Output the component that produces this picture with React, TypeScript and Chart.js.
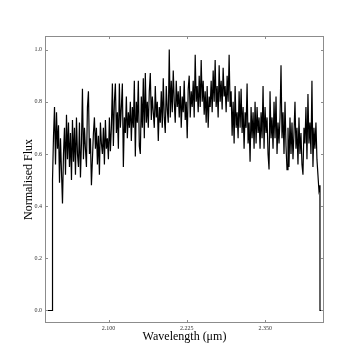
import { useEffect, useRef } from "react";
import { Chart, registerables } from "chart.js";

Chart.register(...registerables);

// Wavelength grid of the spectrum (microns)
const FLUX_START = 2.0105;
const FLUX_END = 2.4375;
const X_MIN = 1.9985;
const X_MAX = 2.444;
const Y_MIN = -0.048;
const Y_MAX = 1.052;

const X_TICKS = [2.1, 2.225, 2.35];
const Y_TICKS = [0, 0.2, 0.4, 0.6, 0.8, 1.0];

// Normalised flux (one value per pixel column)
const FLUX: number[] = [
  0.50, 0.67, 0.78, 0.56, 0.76, 0.62, 0.71, 0.49, 0.66, 0.53,
  0.41, 0.60, 0.70, 0.52, 0.75, 0.58, 0.72, 0.55, 0.68, 0.50,
  0.73, 0.57, 0.70, 0.52, 0.74, 0.60, 0.55, 0.72, 0.51, 0.64,
  0.85, 0.58, 0.70, 0.62, 0.55, 0.78, 0.84, 0.60, 0.66, 0.48,
  0.58, 0.68, 0.74, 0.62, 0.70, 0.56, 0.67, 0.52, 0.72, 0.64,
  0.60, 0.70, 0.56, 0.73, 0.62, 0.66, 0.58, 0.74, 0.61, 0.70,
  0.87, 0.63, 0.80, 0.87, 0.68, 0.76, 0.62, 0.87, 0.70, 0.78,
  0.87, 0.55, 0.74, 0.68, 0.82, 0.66, 0.76, 0.70, 0.80, 0.65,
  0.78, 0.70, 0.88, 0.59, 0.80, 0.72, 0.88, 0.63, 0.60, 0.82,
  0.70, 0.89, 0.66, 0.91, 0.72, 0.80, 0.70, 0.84, 0.91, 0.73,
  0.82, 0.76, 0.70, 0.86, 0.74, 0.80, 0.65, 0.78, 0.72, 0.84,
  0.70, 0.89, 0.74, 0.68, 0.86, 0.77, 0.72, 1.00, 0.74, 0.88,
  0.76, 0.92, 0.80, 0.72, 0.88, 0.78, 0.84, 0.74, 0.86, 0.70,
  0.82, 0.76, 0.88, 0.73, 0.80, 0.66, 0.85, 0.90, 0.74, 0.84,
  0.78, 0.88, 0.74, 0.98, 0.80, 0.86, 0.76, 0.90, 0.78, 0.96,
  0.80, 0.88, 0.75, 0.84, 0.72, 0.86, 0.70, 0.82, 0.78, 0.88,
  0.76, 0.92, 0.80, 0.96, 0.78, 0.86, 0.74, 0.94, 0.80, 0.88,
  0.77, 0.93, 0.82, 0.86, 0.76, 0.90, 0.80, 0.98, 0.78, 0.84,
  0.67, 0.80, 0.64, 0.86, 0.70, 0.76, 0.66, 0.84, 0.70, 0.85,
  0.68, 0.78, 0.62, 0.76, 0.70, 0.87, 0.64, 0.72, 0.57, 0.78,
  0.66, 0.76, 0.62, 0.80, 0.64, 0.78, 0.68, 0.74, 0.62, 0.76,
  0.66, 0.86, 0.62, 0.78, 0.68, 0.74, 0.60, 0.54, 0.84, 0.66,
  0.74, 0.62, 0.80, 0.66, 0.82, 0.60, 0.72, 0.64, 0.74, 0.94,
  0.66, 0.76, 0.60, 0.80, 0.63, 0.54, 0.70, 0.55, 0.74, 0.60,
  0.72, 0.58, 0.68, 0.80, 0.62, 0.70, 0.56, 0.74, 0.60, 0.68,
  0.56, 0.52, 0.70, 0.64, 0.78, 0.58, 0.83, 0.64, 0.72, 0.60,
  0.88, 0.55, 0.70, 0.62, 0.72, 0.58, 0.52, 0.46, 0.48,
];

const SERIF = "'Liberation Serif', 'Times New Roman', serif";

function buildPoints() {
  const n = FLUX.length;
  const step = (FLUX_END - FLUX_START) / (n - 1);
  const pts: { x: number; y: number }[] = [];
  pts.push({ x: X_MIN, y: 0 });
  pts.push({ x: FLUX_START - 0.0001, y: 0 });
  FLUX.forEach((f, i) => pts.push({ x: FLUX_START + i * step, y: f }));
  pts.push({ x: FLUX_END + 0.0001, y: 0 });
  pts.push({ x: X_MAX, y: 0 });
  return pts;
}

const framePlugin = {
  id: "frame",
  afterDraw(chart: any) {
    const { ctx, chartArea } = chart;
    const { left, right, top, bottom } = chartArea;
    const xs = chart.scales.x;
    const ys = chart.scales.y;
    ctx.save();
    ctx.strokeStyle = "#8c8c8c";
    ctx.lineWidth = 1;
    ctx.strokeRect(left + 0.5, top + 0.5, right - left - 1, bottom - top - 1);
    const tl = 3;
    ctx.beginPath();
    X_TICKS.forEach((v) => {
      const px = Math.round(xs.getPixelForValue(v)) + 0.5;
      ctx.moveTo(px, bottom);
      ctx.lineTo(px, bottom - tl);
      ctx.moveTo(px, top);
      ctx.lineTo(px, top + tl);
    });
    Y_TICKS.forEach((v) => {
      const py = Math.round(ys.getPixelForValue(v)) + 0.5;
      ctx.moveTo(left, py);
      ctx.lineTo(left + tl, py);
      ctx.moveTo(right, py);
      ctx.lineTo(right - tl, py);
    });
    ctx.stroke();
    ctx.restore();
  },
};

export default function App() {
  const ref = useRef<HTMLCanvasElement | null>(null);

  useEffect(() => {
    if (!ref.current) return;
    const chart = new Chart(ref.current, {
      type: "line",
      data: {
        datasets: [
          {
            data: buildPoints(),
            borderColor: "#000000",
            borderWidth: 1.2,
            pointRadius: 0,
            tension: 0,
            fill: false,
          },
        ],
      },
      options: {
        responsive: false,
        animation: false,
        layout: { padding: { left: 0, right: 37, top: 36, bottom: 0 } },
        plugins: { legend: { display: false }, tooltip: { enabled: false } },
        scales: {
          x: {
            type: "linear",
            min: X_MIN,
            max: X_MAX,
            grid: { display: false, drawTicks: false },
            border: { display: false },
            afterBuildTicks: (s: any) => {
              s.ticks = X_TICKS.map((v) => ({ value: v }));
            },
            afterFit: (s: any) => {
              s.height = 37;
            },
            ticks: {
              padding: 2,
              maxRotation: 0,
              autoSkip: false,
              color: "#333333",
              font: { family: SERIF, size: 6 },
              callback: (v: any) => Number(v).toFixed(3),
            },
            title: {
              display: true,
              text: "Wavelength (\u03bcm)",
              color: "#000000",
              font: { family: SERIF, size: 12 },
              padding: { top: 0, bottom: 16 },
            },
          },
          y: {
            type: "linear",
            min: Y_MIN,
            max: Y_MAX,
            grid: { display: false, drawTicks: false },
            border: { display: false },
            afterBuildTicks: (s: any) => {
              s.ticks = Y_TICKS.map((v) => ({ value: v }));
            },
            afterFit: (s: any) => {
              s.width = 45;
            },
            ticks: {
              padding: 3,
              color: "#333333",
              font: { family: SERIF, size: 6 },
              callback: (v: any) => Number(v).toFixed(1),
            },
            title: {
              display: true,
              text: "Normalised Flux",
              color: "#000000",
              font: { family: SERIF, size: 12 },
              padding: { top: 22, bottom: 0 },
            },
          },
        },
      },
      plugins: [framePlugin],
    });
    return () => chart.destroy();
  }, []);

  return (
    <div style={{ position: "fixed", left: 0, top: 0, width: 361, height: 360, background: "#ffffff" }}>
      <canvas ref={ref} width={361} height={360} style={{ display: "block" }} />
    </div>
  );
}
